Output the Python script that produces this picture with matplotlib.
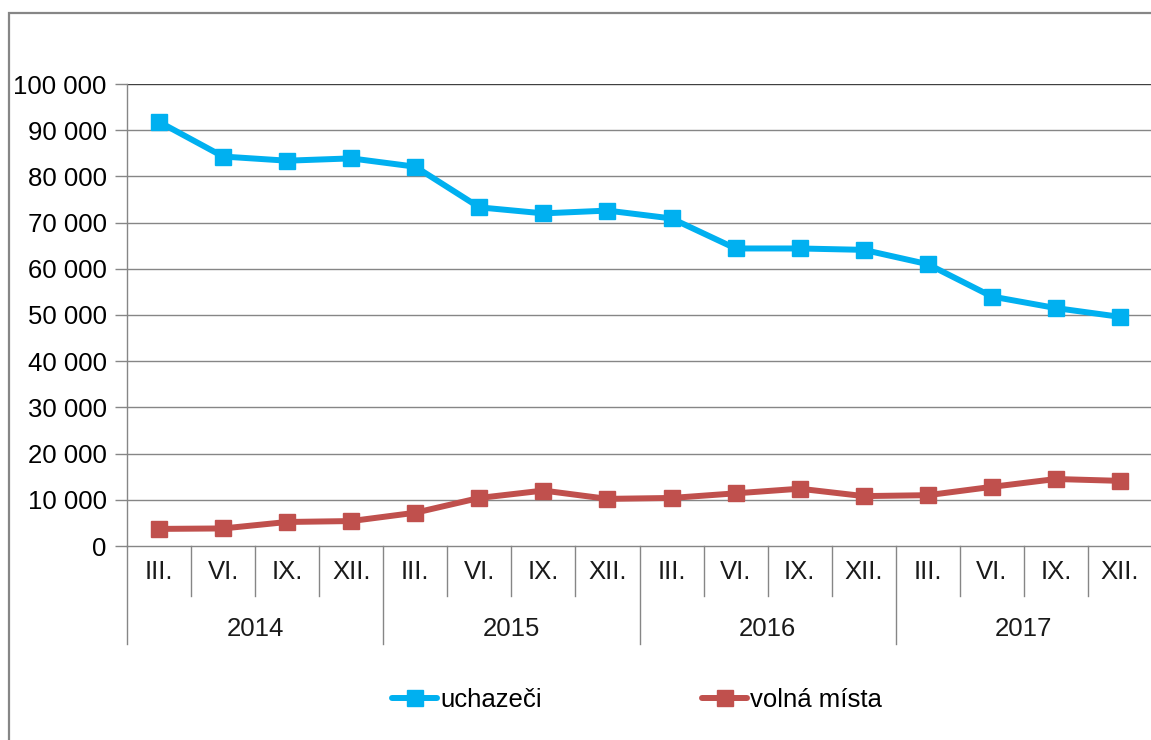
import matplotlib
matplotlib.use("Agg")
import matplotlib.pyplot as plt
from matplotlib.lines import Line2D
from matplotlib.patches import Rectangle
import numpy as np

plt.rcParams['font.family'] = ['Liberation Sans', 'DejaVu Sans']

months = ["III.", "VI.", "IX.", "XII."]
years = ["2014", "2015", "2016", "2017"]
uchazeci = [91800, 84300, 83400, 83900, 82100, 73300, 72000, 72600,
            70900, 64400, 64400, 64100, 61000, 54000, 51500, 49600]
volna_mista = [3700, 3800, 5200, 5400, 7200, 10400, 12000, 10200,
               10400, 11400, 12400, 10800, 11000, 12800, 14500, 14100]

W, H = 1151, 740
FS = 18.5
fig = plt.figure(figsize=(W / 100, H / 100), dpi=100)

# outer frame
fig.add_artist(Rectangle((9 / W, -0.05), 1.2, 1 - 13 / H + 0.05,
                         transform=fig.transFigure, fill=False,
                         edgecolor='#868686', linewidth=1.6))

left, right, top, bottom = 127, 1152, 84, 546
ax = fig.add_axes([left / W, 1 - bottom / H, (right - left) / W, (bottom - top) / H])

x = np.arange(len(uchazeci))
blue = '#00B0F0'
red = '#C0504D'
ax.plot(x, uchazeci, color=blue, lw=4.3, marker='s', ms=11.5, zorder=3,
        solid_joinstyle='round', solid_capstyle='round', label='uchazeči')
ax.plot(x, volna_mista, color=red, lw=4.3, marker='s', ms=11.5, zorder=3,
        solid_joinstyle='round', solid_capstyle='round', label='volná místa')

ax.set_xlim(-0.5, len(x) - 0.5)
ax.set_ylim(0, 100000)
yt = np.arange(0, 100001, 10000)
ax.set_yticks(yt)
ax.set_yticklabels([("{:,}".format(v)).replace(",", " ") for v in yt], fontsize=FS)
ax.tick_params(axis='y', length=9, color='#868686', width=1, pad=5.5)
ax.set_xticks([])
for v in yt[1:-1]:
    ax.axhline(v, color='#868686', lw=1, zorder=1)
ax.axhline(100000, color='#404040', lw=1, zorder=1)

for s in ['top', 'right']:
    ax.spines[s].set_visible(False)
ax.spines['left'].set_color('#868686')
ax.spines['bottom'].set_color('#868686')
ax.spines['left'].set_linewidth(1)
ax.spines['bottom'].set_linewidth(1)

h = bottom - top
trans = ax.get_xaxis_transform()
month_bottom = -50 / h
year_bottom = -98 / h
for i in range(len(x) + 1):
    xb = i - 0.5
    yb = year_bottom if i % 4 == 0 else month_bottom
    ax.add_line(Line2D([xb, xb], [0, yb], transform=trans, color='#868686',
                       lw=1, clip_on=False))
for i in range(len(x)):
    ax.text(i, -26 / h, months[i % 4], transform=trans, ha='center', va='center',
            fontsize=FS, color='#1a1a1a')
for j, yr in enumerate(years):
    ax.text(4 * j + 1.5, -83 / h, yr, transform=trans, ha='center', va='center',
            fontsize=FS, color='#1a1a1a')

fig.legend(loc='center', bbox_to_anchor=(637 / W, 1 - 700 / H), ncol=2,
           frameon=False, fontsize=FS, handlelength=1.75, handletextpad=0.1,
           columnspacing=6.25)

fig.savefig('out.png', dpi=100)
